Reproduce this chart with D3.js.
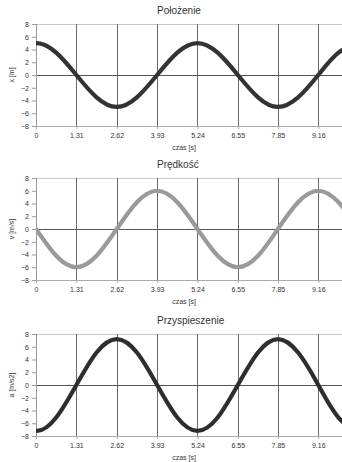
<!DOCTYPE html>
<html>
<head>
<meta charset="utf-8">
<script src="https://cdn.jsdelivr.net/npm/d3@7"></script>
<style>
  body { margin:0; background:#fff; }
  svg { display:block; font-family:"Liberation Sans", Arial, sans-serif; }
  .title { font-size:10px; fill:#333; }
  .tick text { font-size:7px; fill:#333; }
  .axlabel { font-size:7px; fill:#333; }
</style>
</head>
<body>
<svg id="svg-chart" width="342" height="462"></svg>
<script>
// data, one sample every 0.655 s (first one sits just left of the plot, clipped)
var czas = [-0.655, 0, 0.655, 1.31, 1.965, 2.62, 3.275, 3.93, 4.585, 5.24, 5.895, 6.55, 7.205, 7.85, 8.505, 9.16, 9.815, 10.48];
var polozenie = [3.5, 5, 3.5, 0, -3.5, -5, -3.5, 0, 3.5, 5, 3.5, 0, -3.5, -5, -3.5, 0, 3.5, 5];
var predkosc = [4.2, 0, -4.2, -6, -4.2, 0, 4.2, 6, 4.2, 0, -4.2, -6, -4.2, 0, 4.2, 6, 4.2, 0];
var przysp = [-5.1, -7.2, -5.1, 0, 5.1, 7.2, 5.1, 0, -5.1, -7.2, -5.1, 0, 5.1, 7.2, 5.1, 0, -5.1, -7.2];
var xTicks = [0, 1.31, 2.62, 3.93, 5.24, 6.55, 7.85, 9.16];
var xTickLabels = ["0", "1.31", "2.62", "3.93", "5.24", "6.55", "7.85", "9.16"];
var yTicks = [-8, -6, -4, -2, 0, 2, 4, 6, 8];

var svg = d3.select("#svg-chart");

// Layout
var dim = { left:36, right:342, h:102, tops:[24, 178, 334] };

var panels = [
  { title:"Położenie", ylab:"x [m]", values:polozenie, color:"#333" },
  { title:"Prędkość", ylab:"v [m/s]", values:predkosc, color:"#9a9a9a" },
  { title:"Przyspieszenie", ylab:"a [m/s2]", values:przysp, color:"#2e2e2e" }
];

var xScale = d3.scaleLinear().domain([0, 9.93]).range([dim.left, dim.right]);

svg.append("defs").append("clipPath").attr("id", "clip")
   .append("rect").attr("x", dim.left).attr("y", -10).attr("width", dim.right - dim.left).attr("height", dim.h + 20);

panels.forEach(function(p, k) {
  var top = dim.tops[k];
  var yScale = d3.scaleLinear().domain([-8, 8]).range([dim.h, 0]);
  var g = svg.append("g").attr("transform", "translate(0," + top + ")");

  // top border
  g.append("line").attr("x1", dim.left).attr("x2", dim.right)
   .attr("y1", yScale(8) + 0.5).attr("y2", yScale(8) + 0.5)
   .style("stroke", "#c8c8c8");

  // vertical grid lines
  g.selectAll(".vgrid").data(xTicks.slice(1)).enter().append("line")
   .attr("x1", function(d) { return Math.round(xScale(d)) + 0.5; })
   .attr("x2", function(d) { return Math.round(xScale(d)) + 0.5; })
   .attr("y1", yScale(8)).attr("y2", yScale(-8))
   .style("stroke", "#6a6a6a");

  // zero line
  g.append("line").attr("x1", dim.left).attr("x2", dim.right)
   .attr("y1", Math.round(yScale(0)) + 0.5).attr("y2", Math.round(yScale(0)) + 0.5)
   .style("stroke", "#555");

  // axes
  var xAxis = d3.axisBottom(xScale).tickValues(xTicks).tickSize(3).tickPadding(4)
                .tickFormat(function(d, i) { return xTickLabels[i]; });
  var gx = g.append("g").attr("transform", "translate(0," + dim.h + ")").call(xAxis);
  gx.select(".domain").attr("d", "M" + dim.left + ",0.5H" + dim.right).style("stroke", "#aaa");
  gx.selectAll(".tick line").style("stroke", "#aaa");

  var yAxis = d3.axisLeft(yScale).tickValues(yTicks).tickSize(4).tickPadding(3);
  var gy = g.append("g").attr("transform", "translate(" + dim.left + ",0)").call(yAxis);
  gy.select(".domain").attr("d", "M0.5,0V" + dim.h).style("stroke", "#999");
  gy.selectAll(".tick line").style("stroke", "#999");
  gy.selectAll(".tick text").attr("dy", "0.32em");

  // curve
  var line = d3.line()
               .x(function(d, i) { return xScale(czas[i]); })
               .y(function(d) { return yScale(d); })
               .curve(d3.curveNatural);
  g.append("path").datum(p.values)
   .attr("clip-path", "url(#clip)")
   .attr("d", line)
   .style("fill", "none")
   .style("stroke", p.color)
   .style("stroke-width", 4.2)
   .style("stroke-linecap", "round");

  // labels
  g.append("text").attr("class", "title").attr("x", 157).attr("y", -10).text(p.title);
  g.append("text").attr("class", "axlabel").attr("x", 184).attr("y", dim.h + 24)
   .attr("text-anchor", "middle").text("czas [s]");
  g.append("text").attr("class", "axlabel")
   .attr("transform", "translate(14," + (dim.h / 2) + ") rotate(-90)")
   .attr("text-anchor", "middle").text(p.ylab);
});
</script>
</body>
</html>
